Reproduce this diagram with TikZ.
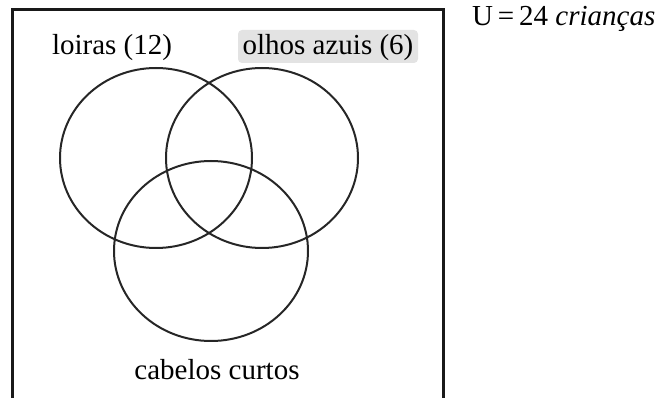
\documentclass[tikz,border=0pt]{standalone}
\usepackage{fontspec}
\setmainfont{Liberation Serif}
\begin{document}
\begin{tikzpicture}[x=1pt,y=-1pt,
  lbl/.style={font=\fontsize{29}{34}\selectfont, inner sep=0pt, anchor=base},
  setline/.style={draw=black!85, line width=2pt}]
\useasboundingbox (0,0) rectangle (665,398);
\clip (0,0) rectangle (665,398);
% universe box
\draw[black!90, line width=3pt] (12,10) rectangle (443,420);
% highlight behind label
\fill[gray!22, rounded corners=4pt] (238,30) rectangle (418,63);
% sets
\draw[setline] (156,158) ellipse [x radius=96, y radius=90];
\draw[setline] (262,158) ellipse [x radius=96, y radius=90];
\draw[setline] (211,251) ellipse [x radius=97, y radius=90];
% labels
\node[lbl] (loiras) at (112,55) {loiras (12)};
\node[lbl] (olhos) at (328,55) {olhos azuis (6)};
\node[lbl] (cabelos) at (217,380) {cabelos curtos};
\node[lbl, anchor=base west] (univ) at (472,26) {U\,=\,24 \textit{crianças}};
\end{tikzpicture}
\end{document}
